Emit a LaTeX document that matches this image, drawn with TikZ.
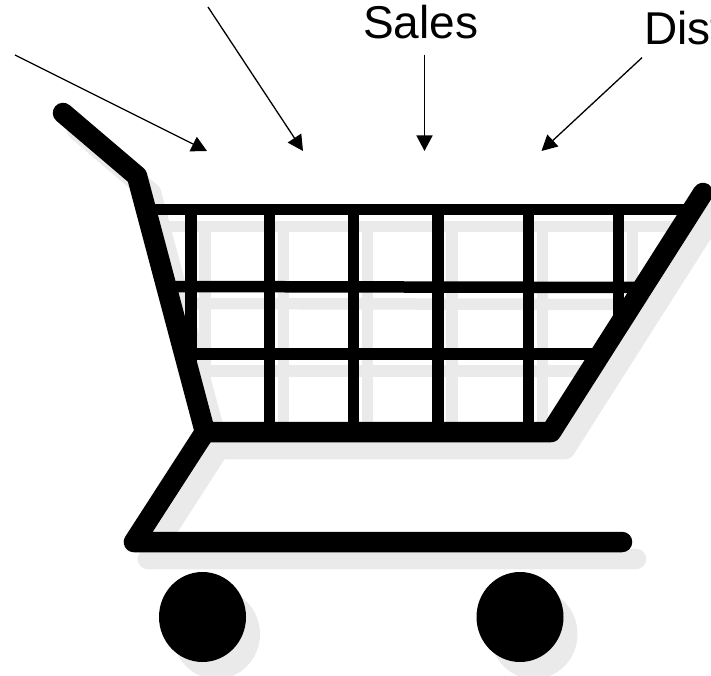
\documentclass[tikz,border=0pt]{standalone}
\usepackage{fontspec}
\setmainfont{Liberation Sans}
\usetikzlibrary{arrows.meta}
\definecolor{figSombra}{RGB}{234,234,234}
\tikzset{
  etiqueta/.style={
    anchor=base west, inner xsep=0pt, inner ysep=15pt,
    font=\fontsize{46}{50}\selectfont
  },
  flecha/.style={-{Triangle[length=15.5pt,width=16pt]}, line width=1.3pt, draw=black},
  varilla/.style={line width=11.5pt, line cap=butt},
  barra/.style={line width=20.5pt, line cap=round, line join=round}
}
\begin{document}
\begin{tikzpicture}[x=1pt, y=-1pt]
  \useasboundingbox (0,0) rectangle (711,676);

  % shadow first, then the cart itself
  \foreach \capa/\dx/\dy in {figSombra/14/17, black/0/0} {
    \begin{scope}[shift={(\dx,\dy)}, draw=\capa, fill=\capa]
      \draw[varilla] (146,209.5) -- (693,209.5);
      \draw[varilla] (166,286.5) -- (643,287.5);
      \draw[varilla] (184,354) -- (600,354);
      \draw[varilla] (191,209.5) -- (191,379);
      \foreach \xbar in {269.5, 353.5, 438, 528.5} {
        \draw[varilla] (\xbar,209.5) -- (\xbar,432);
      }
      \draw[varilla] (618.5,209.5) -- (618.5,326);
      \draw[barra] (63,113) -- (137,176) -- (205,432) -- (551,432) -- (703,193);
      \draw[barra] (205,432) -- (134,542) -- (622,542);
      \fill (202.5,617) ellipse [x radius=43.5, y radius=45];
      \fill (520,617) ellipse [x radius=43.5, y radius=45];
    \end{scope}
  }

  \node[etiqueta] (sales) at (363,39) {Sales};
  \node[etiqueta, inner xsep=2pt, inner ysep=12pt] (dist) at (642,45) {Dist};

  \coordinate (izqIni) at (15,55);
  \coordinate (izqFin) at (207,151);
  \coordinate (medIni) at (208,7);
  \coordinate (medFin) at (303,151);
  \coordinate (salesFin) at (424.5,151);
  \coordinate (distFin) at (541.5,151);

  \draw[flecha] (izqIni) -- (izqFin);
  \draw[flecha] (medIni) -- (medFin);
  \draw[flecha] (sales.south -| salesFin) -- (salesFin);
  \draw[flecha] (dist.south west) -- (distFin);
\end{tikzpicture}
\end{document}
